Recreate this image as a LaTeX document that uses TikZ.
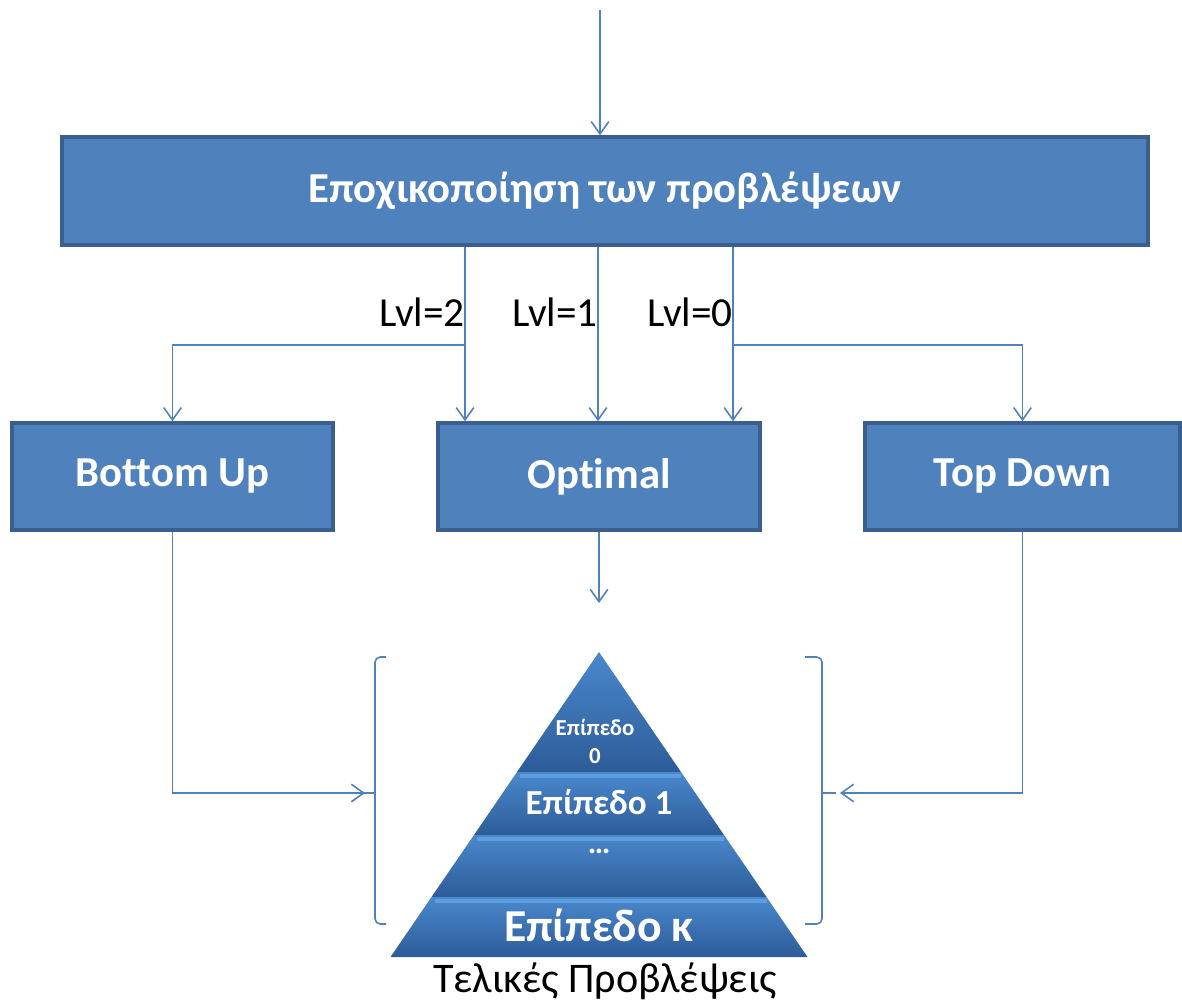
\documentclass[tikz,border=0pt]{standalone}
\usepackage{fontspec}
\setmainfont{Carlito}[Ligatures=NoCommon]
\usepackage{tikz}
\usetikzlibrary{arrows.meta}
\definecolor{boxblue}{HTML}{4F81BD}
\definecolor{boxedge}{HTML}{3A5F8E}
\definecolor{pyrtop}{HTML}{4A88CC}
\definecolor{pyrbot}{HTML}{2D5C98}
\definecolor{pyrhi}{HTML}{5E9DE0}

\begin{document}
\begin{tikzpicture}[
	    blk/.style={draw=boxedge,line width=2pt,fill=boxblue,text=white,font=\bfseries\fontsize{24.3}{28}\selectfont,inner sep=0pt},
	    conn/.style={draw=boxblue,line width=0.9pt},
	    arr/.style={conn,-{Straight Barb[length=7pt,width=10pt]}},
	    lbl/.style={font=\fontsize{23.5}{27}\selectfont,anchor=east,inner sep=0pt},
	    lvltxt/.style={text=white,align=center,inner sep=0pt}]
	    \useasboundingbox (0,0) rectangle (23.64,-20.06);
	    % boxes
	    \node[blk,minimum width=21.72cm,minimum height=2.16cm] (seas) at (12.1,-3.82) {Εποχικοποίηση των προβλέψεων};
	    \node[blk,minimum width=6.42cm,minimum height=2.14cm] (bu) at (3.45,-9.53) {Bottom Up};
	    \node[blk,minimum width=6.44cm,minimum height=2.14cm] (opt) at (11.98,-9.53) {Optimal};
	    \node[blk,minimum width=6.3cm,minimum height=2.14cm] (td) at (20.45,-9.53) {Top Down};
	    % input arrow
	    \coordinate (in) at (12,-0.2);
	    \draw[arr] (in) -- (in |- seas.north);
	    % level branches
	    \coordinate (l2) at (9.3,-6.9);
	    \coordinate (l1) at (11.96,-6.9);
	    \coordinate (l0) at (14.66,-6.9);
	    \draw[arr] (l2 |- seas.south) -- (l2 |- opt.north);
	    \draw[arr] (l1 |- seas.south) -- (l1 |- opt.north);
	    \draw[arr] (l0 |- seas.south) -- (l0 |- opt.north);
	    \draw[arr] (l2) -| (bu.north);
	    \draw[arr] (l0) -| (td.north);
	    \node[lbl] (lv2) at (9.3,-6.24) {Lvl=2};
	    \node[lbl] (lv1) at (11.96,-6.24) {Lvl=1};
	    \node[lbl] (lv0) at (14.66,-6.24) {Lvl=0};
	    % pyramid
	    \shade[top color=pyrtop,bottom color=pyrbot] (11.98,-13.04) -- (13.62,-15.44) -- (10.34,-15.44) -- cycle;
	    \shade[top color=pyrtop,bottom color=pyrbot] (10.34,-15.44) -- (13.62,-15.44) -- (14.48,-16.7) -- (9.48,-16.7) -- cycle;
	    \shade[top color=pyrtop,bottom color=pyrbot] (9.48,-16.7) -- (14.48,-16.7) -- (15.33,-17.94) -- (8.63,-17.94) -- cycle;
	    \shade[top color=pyrtop,bottom color=pyrbot] (8.63,-17.94) -- (15.33,-17.94) -- (16.15,-19.14) -- (7.81,-19.14) -- cycle;
	    \draw[pyrhi,line width=2.5pt] (10.4,-15.52) -- (13.62,-15.52);
	    \draw[pyrhi,line width=2.5pt] (9.54,-16.78) -- (14.48,-16.78);
	    \draw[pyrhi,line width=2.5pt] (8.69,-18.02) -- (15.33,-18.02);
	    \node[lvltxt,font=\bfseries\fontsize{13}{16}\selectfont] (e0) at (11.9,-14.82) {Επίπεδο\\0};
	    \node[lvltxt,font=\bfseries\fontsize{20}{24}\selectfont] (e1) at (11.98,-16.04) {Επίπεδο 1};
	    \node[lvltxt,font=\bfseries\fontsize{18}{22}\selectfont] (edots) at (11.98,-17.02) {…};
	    \node[lvltxt,font=\bfseries\fontsize{26}{30}\selectfont] (ek) at (11.98,-18.5) {Επίπεδο κ};
	    \node[font=\fontsize{24}{28}\selectfont] (final) at (12.1,-19.62) {Τελικές Προβλέψεις};
	    % brackets
	    \draw[conn,rounded corners=3pt] (7.72,-13.14) -- (7.5,-13.14) -- (7.5,-18.48) -- (7.72,-18.48);
	    \draw[conn] (7.5,-15.86) -- (7.24,-15.86);
	    \draw[conn,rounded corners=3pt] (16.1,-13.14) -- (16.44,-13.14) -- (16.44,-18.48) -- (16.1,-18.48);
	    \draw[conn] (16.44,-15.86) -- (16.72,-15.86);
	    % to the pyramid
	    \coordinate (pyrtip) at (11.96,-12.06);
	    \coordinate (lb) at (7.3,-15.86);
	    \coordinate (rb) at (16.8,-15.86);
	    \draw[arr] (opt.south) -- (opt.south |- pyrtip);
	    \draw[arr] (bu.south) |- (lb);
	    \draw[arr] (td.south) |- (rb);
	\end{tikzpicture}
\end{document}
